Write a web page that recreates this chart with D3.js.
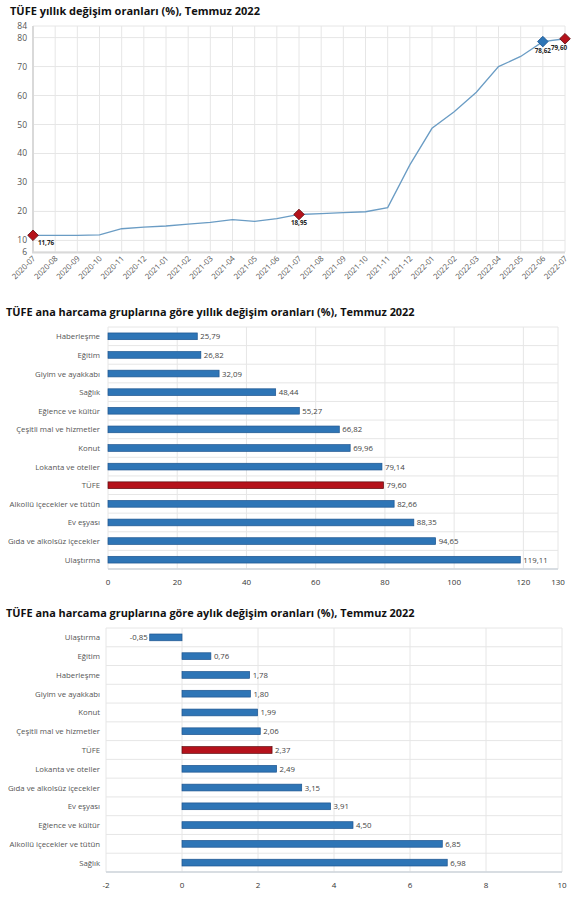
<!DOCTYPE html>
<html>
  <head>
    <meta charset="utf-8" />
    <style>
      body { margin: 0; background: #fff; }
      svg { display: block; font-family: "Open Sans", "Noto Sans", sans-serif; }
    </style>
  </head>
  <body>

<svg id="graph" width="583" height="900"></svg>

<script src="https://d3js.org/d3.v7.min.js"></script>
<script>
  // --- veri ---
  const months = ['2020-07','2020-08','2020-09','2020-10','2020-11','2020-12',
    '2021-01','2021-02','2021-03','2021-04','2021-05','2021-06','2021-07',
    '2021-08','2021-09','2021-10','2021-11','2021-12','2022-01','2022-02',
    '2022-03','2022-04','2022-05','2022-06','2022-07'];
  const annualCpi = [11.76, 11.77, 11.75, 11.89, 14.03, 14.60, 14.97, 15.61, 16.19,
    17.14, 16.59, 17.53, 18.95, 19.25, 19.58, 19.89, 21.31, 36.08, 48.69, 54.44,
    61.14, 69.97, 73.50, 78.62, 79.60];
  const lineTicks = [6, 10, 20, 30, 40, 50, 60, 70, 80, 84];
  const markedMonths = ['2020-07', '2021-07', '2022-06', '2022-07'];

  const yearlyGroups = ['Haberleşme','Eğitim','Giyim ve ayakkabı','Sağlık','Eğlence ve kültür',
    'Çeşitli mal ve hizmetler','Konut','Lokanta ve oteller','TÜFE','Alkollü içecekler ve tütün',
    'Ev eşyası','Gıda ve alkolsüz içecekler','Ulaştırma'];
  const yearlyValues = [25.79, 26.82, 32.09, 48.44, 55.27, 66.82, 69.96, 79.14, 79.60, 82.66,
    88.35, 94.65, 119.11];
  const yearlyTicks = [0, 20, 40, 60, 80, 100, 120, 130];

  const monthlyGroups = ['Ulaştırma','Eğitim','Haberleşme','Giyim ve ayakkabı','Konut',
    'Çeşitli mal ve hizmetler','TÜFE','Lokanta ve oteller','Gıda ve alkolsüz içecekler',
    'Ev eşyası','Eğlence ve kültür','Alkollü içecekler ve tütün','Sağlık'];
  const monthlyValues = [-0.85, 0.76, 1.78, 1.80, 1.99, 2.06, 2.37, 2.49, 3.15, 3.91, 4.50,
    6.85, 6.98];
  const monthlyTicks = [-2, 0, 2, 4, 6, 8, 10];

  const svg = d3.select('#graph');
  const fmt = v => v.toFixed(2).replace('.', ',');
  const GRID = '#e6e6e6';
  const TXT = '#555';
  const BLUE = '#2e75b6', BLUE_DARK = '#1d5590';
  const RED = '#b5121b', RED_DARK = '#5c0a0e';
  const FS = 7.8;

  // --- çizgi grafik ---
  svg.append('text').attr('x', 10).attr('y', 15)
    .attr('font-size', 11).attr('font-weight', 'bold').attr('fill', '#111')
    .text('TÜFE yıllık değişim oranları (%), Temmuz 2022');

  const x1 = d3.scalePoint().domain(months).range([33, 565]);
  const y1 = d3.scaleLinear().domain([6, 84]).range([252, 26]);
  const g1 = svg.append('g');

  g1.selectAll('line.h').data(lineTicks).join('line')
    .attr('x1', 33).attr('x2', 565)
    .attr('y1', d => y1(d)).attr('y2', d => y1(d))
    .attr('stroke', GRID);
  g1.selectAll('line.v').data(months).join('line')
    .attr('x1', d => x1(d)).attr('x2', d => x1(d))
    .attr('y1', 26).attr('y2', 252)
    .attr('stroke', GRID);
  g1.append('line').attr('x1', 33).attr('x2', 33).attr('y1', 26).attr('y2', 253)
    .attr('stroke', '#d9d9d9').attr('stroke-width', 2);
  g1.append('line').attr('x1', 32).attr('x2', 565).attr('y1', 252.5).attr('y2', 252.5)
    .attr('stroke', '#d9d9d9').attr('stroke-width', 2);

  g1.selectAll('text.yt').data(lineTicks).join('text')
    .attr('x', 27).attr('y', d => y1(d) + 3)
    .attr('text-anchor', 'end').attr('font-size', 8.5).attr('fill', TXT)
    .text(d => d);
  g1.selectAll('text.xt').data(months).join('text')
    .attr('text-anchor', 'end').attr('font-size', FS).attr('fill', TXT)
    .attr('transform', d => `translate(${x1(d) + 3},${259}) rotate(-45)`)
    .text(d => d);

  const line = d3.line().x((d, i) => x1(months[i])).y(d => y1(d));
  g1.append('path').datum(annualCpi).attr('d', line)
    .attr('fill', 'none').attr('stroke', '#6a9cc4').attr('stroke-width', 1.3);

  const marks = markedMonths.map(m => ({ m, v: annualCpi[months.indexOf(m)] }));
  g1.selectAll('path.mk').data(marks).join('path')
    .attr('d', d3.symbol().type(d3.symbolDiamond2).size(72))
    .attr('transform', d => `translate(${x1(d.m)},${y1(d.v)})`)
    .attr('fill', d => d.m === '2022-06' ? BLUE : RED)
    .attr('stroke', d => d.m === '2022-06' ? BLUE_DARK : RED_DARK)
    .attr('stroke-width', 0.8);
  const labelShift = { '2020-07': [13, 10], '2021-07': [0, 11], '2022-06': [0, 11], '2022-07': [-6, 11] };
  g1.selectAll('text.mk').data(marks).join('text')
    .attr('x', d => x1(d.m) + labelShift[d.m][0])
    .attr('y', d => y1(d.v) + labelShift[d.m][1])
    .attr('text-anchor', 'middle').attr('font-size', 6.3).attr('font-weight', 'bold')
    .attr('fill', '#222')
    .text(d => fmt(d.v));

  // --- yatay çubuk grafik ---
  function barChart(o) {
    const g = svg.append('g');
    g.append('text').attr('x', 6).attr('y', o.titleY)
      .attr('font-size', 10.9).attr('font-weight', 'bold').attr('fill', '#111')
      .text(o.title);

    const x = d3.scaleLinear().domain(o.domain).range([o.x0, o.x1]);
    const y = d3.scaleBand().domain(o.groups).range([o.y0, o.y1]).paddingInner(0.64).paddingOuter(0.32);

    // ızgara
    const bounds = d3.range(o.groups.length + 1).map(i => o.y0 + i * (o.y1 - o.y0) / o.groups.length);
    g.selectAll('line.h').data(bounds).join('line')
      .attr('x1', o.x0).attr('x2', o.x1)
      .attr('y1', d => d).attr('y2', d => d)
      .attr('stroke', GRID);
    g.selectAll('line.v').data(o.ticks).join('line')
      .attr('x1', d => x(d)).attr('x2', d => x(d))
      .attr('y1', o.y0).attr('y2', o.y1)
      .attr('stroke', GRID);
    g.append('line').attr('x1', o.x0).attr('x2', o.x1).attr('y1', o.y1).attr('y2', o.y1)
      .attr('stroke', '#cfd6dc').attr('stroke-width', 1.5);

    g.selectAll('text.xt').data(o.ticks).join('text')
      .attr('x', d => x(d)).attr('y', o.y1 + 16)
      .attr('text-anchor', 'middle').attr('font-size', 8).attr('fill', '#333')
      .text(d => d);
    g.selectAll('text.cat').data(o.groups).join('text')
      .attr('x', 100).attr('y', d => y(d) + y.bandwidth() / 2 + 3)
      .attr('text-anchor', 'end').attr('font-size', FS).attr('fill', TXT)
      .text(d => d);

    const data = o.groups.map((k, i) => ({ k, v: o.values[i] }));
    g.selectAll('rect').data(data).join('rect')
      .attr('x', d => x(Math.min(0, d.v)))
      .attr('width', d => Math.abs(x(d.v) - x(0)))
      .attr('y', d => y(d.k))
      .attr('height', y.bandwidth())
      .attr('fill', d => d.k === 'TÜFE' ? RED : BLUE)
      .attr('stroke', d => d.k === 'TÜFE' ? RED_DARK : BLUE_DARK)
      .attr('stroke-width', 0.7);
    g.selectAll('text.val').data(data).join('text')
      .attr('x', d => d.v < 0 ? x(d.v) - 2 : x(d.v) + 3)
      .attr('y', d => y(d.k) + y.bandwidth() / 2 + 3)
      .attr('text-anchor', d => d.v < 0 ? 'end' : 'start')
      .attr('font-size', FS).attr('fill', '#444')
      .text(d => fmt(d.v));
  }

  barChart({
    title: 'TÜFE ana harcama gruplarına göre yıllık değişim oranları (%), Temmuz 2022',
    titleY: 316, groups: yearlyGroups, values: yearlyValues, ticks: yearlyTicks,
    domain: [0, 130], x0: 108, x1: 558, y0: 327, y1: 569
  });
  barChart({
    title: 'TÜFE ana harcama gruplarına göre aylık değişim oranları (%), Temmuz 2022',
    titleY: 617, groups: monthlyGroups, values: monthlyValues, ticks: monthlyTicks,
    domain: [-2, 10], x0: 106, x1: 562, y0: 628, y1: 872
  });
</script>
  </body>
</html>
